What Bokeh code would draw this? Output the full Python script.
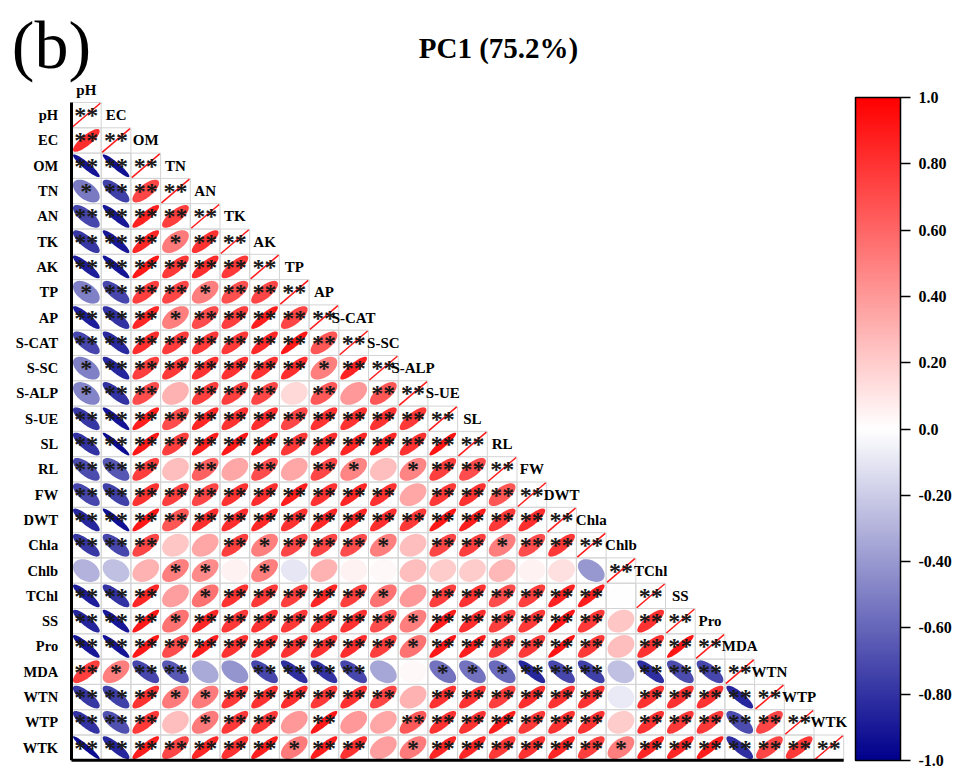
import numpy as np
from bokeh.plotting import figure
from bokeh.models import (Range1d, ColumnDataSource, LinearColorMapper, ColorBar,
                          FixedTicker, CustomJSTickFormatter)
from bokeh.core.properties import value
from bokeh.embed import file_html
from bokeh.resources import INLINE

# ---- data -----------------------------------------------------------------
names = ["pH", "EC", "OM", "TN", "AN", "TK", "AK", "TP", "AP", "S-CAT", "S-SC",
         "S-ALP", "S-UE", "SL", "RL", "FW", "DWT", "Chla", "Chlb", "TChl", "SS",
         "Pro", "MDA", "WTN", "WTP", "WTK"]

# lower triangle of the Pearson matrix, one list per row (columns 0 .. row-1)
r_EC = [0.82]
r_OM = [-0.92, -0.93]
r_TN = [-0.52, -0.75, 0.72]
r_AN = [-0.72, -0.90, 0.87, 0.75]
r_TK = [-0.78, -0.90, 0.85, 0.52, 0.80]
r_AK = [-0.88, -0.92, 0.90, 0.78, 0.82, 0.78]
r_TP = [-0.50, -0.72, 0.75, 0.72, 0.50, 0.68, 0.72]
r_AP = [-0.88, -0.80, 0.85, 0.50, 0.70, 0.75, 0.88, 0.72]
r_SCAT = [-0.72, -0.83, 0.82, 0.76, 0.78, 0.78, 0.84, 0.90, 0.66]
r_SSC = [-0.50, -0.85, 0.75, 0.78, 0.80, 0.80, 0.80, 0.82, 0.50, 0.86]
r_SALP = [-0.48, -0.80, 0.70, 0.30, 0.75, 0.75, 0.72, 0.15, 0.65, 0.40, 0.66]
r_SUE = [-0.78, -0.92, 0.88, 0.70, 0.85, 0.80, 0.82, 0.72, 0.80, 0.80, 0.80, 0.78]
r_SL = [-0.80, -0.95, 0.90, 0.75, 0.88, 0.90, 0.88, 0.78, 0.82, 0.85, 0.85, 0.80, 0.92]
r_RL = [-0.70, -0.66, 0.75, 0.25, 0.62, 0.35, 0.70, 0.35, 0.72, 0.48, 0.25, 0.48,
        0.75, 0.70]
r_FW = [-0.72, -0.75, 0.80, 0.75, 0.72, 0.80, 0.82, 0.88, 0.80, 0.85, 0.80, 0.35,
        0.78, 0.80, 0.66]
r_DWT = [-0.85, -0.93, 0.90, 0.66, 0.82, 0.82, 0.85, 0.80, 0.85, 0.85, 0.82, 0.78,
         0.90, 0.88, 0.78, 0.82]
r_Chla = [-0.78, -0.72, 0.72, 0.22, 0.35, 0.75, 0.50, 0.72, 0.72, 0.70, 0.50, 0.25,
          0.72, 0.75, 0.50, 0.70, 0.78]
r_Chlb = [-0.30, -0.25, 0.30, 0.50, 0.46, 0.05, 0.50, -0.10, 0.30, 0.05, 0.03, 0.25,
          0.20, 0.20, 0.28, 0.05, 0.12, -0.40]
r_TChl = [-0.88, -0.80, 0.85, 0.38, 0.55, 0.80, 0.78, 0.75, 0.85, 0.75, 0.55, 0.40,
          0.75, 0.80, 0.70, 0.75, 0.86, 0.88, 0.00]
r_SS = [-0.85, -0.90, 0.90, 0.55, 0.85, 0.78, 0.80, 0.78, 0.80, 0.80, 0.70, 0.50,
        0.88, 0.82, 0.75, 0.78, 0.90, 0.78, 0.22, 0.80]
r_Pro = [-0.90, -0.92, 0.90, 0.70, 0.88, 0.80, 0.82, 0.80, 0.80, 0.82, 0.75, 0.55,
         0.90, 0.88, 0.75, 0.78, 0.92, 0.78, 0.25, 0.80, 0.92]
r_MDA = [0.75, 0.50, -0.72, -0.65, -0.33, -0.42, -0.72, -0.82, -0.80, -0.72, -0.35,
         0.03, -0.55, -0.55, -0.58, -0.85, -0.72, -0.75, -0.25, -0.82, -0.70, -0.72]
r_WTN = [-0.78, -0.75, 0.80, 0.52, 0.52, 0.78, 0.80, 0.82, 0.78, 0.80, 0.72, 0.30,
         0.80, 0.80, 0.75, 0.82, 0.80, 0.80, -0.08, 0.80, 0.80, 0.80, -0.85]
r_WTP = [-0.80, -0.68, 0.78, 0.25, 0.52, 0.78, 0.78, 0.40, 0.90, 0.40, 0.35, 0.65,
         0.80, 0.80, 0.88, 0.78, 0.80, 0.80, 0.20, 0.80, 0.78, 0.78, -0.70, 0.72]
r_WTK = [-0.95, -0.85, 0.88, 0.72, 0.85, 0.80, 0.88, 0.52, 0.88, 0.80, 0.38, 0.52,
         0.85, 0.85, 0.78, 0.80, 0.85, 0.75, 0.50, 0.85, 0.85, 0.88, -0.82, 0.72, 0.78]

lower = [[], r_EC, r_OM, r_TN, r_AN, r_TK, r_AK, r_TP, r_AP, r_SCAT, r_SSC, r_SALP,
         r_SUE, r_SL, r_RL, r_FW, r_DWT, r_Chla, r_Chlb, r_TChl, r_SS, r_Pro, r_MDA,
         r_WTN, r_WTP, r_WTK]

# significance levels for the sample size used (|r| thresholds)
SIG1, SIG2 = 0.45, 0.60

title_text = "PC1 (75.2%)"
panel_tag = "(b)"
bar_ticks = [-1.0, -0.8, -0.6, -0.4, -0.2, 0.0, 0.2, 0.4, 0.6, 0.8, 1.0]

# ---- layout ---------------------------------------------------------------
W, H = 969, 768
CW, CH = 29.7, 25.3        # cell size in pixels
X0, Y0 = 71, 102           # top-left corner of the matrix in pixels
n = len(names)

def px_x(px):
    return (px - X0) / CW

def px_y(py):
    return (py - Y0) / CH

p = figure(width=W, height=H, output_backend="svg", toolbar_location=None,
           x_range=Range1d(px_x(0), px_x(W)), y_range=Range1d(px_y(H), px_y(0)),
           x_axis_location=None, y_axis_location=None, min_border=0,
           outline_line_color=None, background_fill_color="white")
p.grid.visible = False

# colour scale: navy -> white -> red
navy = np.array([0, 0, 140.0])
red = np.array([255, 0, 0.0])
white = np.array([255, 255, 255.0])
palette = []
for v in np.linspace(-1, 1, 256):
    c = white + (navy - white) * (-v) if v < 0 else white + (red - white) * v
    palette.append("#%02x%02x%02x" % tuple(int(round(k)) for k in c))
mapper = LinearColorMapper(palette=palette, low=-1, high=1)

# ---- cells, ellipses, stars -------------------------------------------------
t = np.linspace(0, 2 * np.pi, 72)
S = 0.45
cx, cy, xs, ys, rv, sx, sy, st = [], [], [], [], [], [], [], []
for i in range(n):
    for j in range(i + 1):
        cx.append(j + 0.5)
        cy.append(i + 0.5)
    for j, r in enumerate(lower[i]):
        d = np.arccos(r)
        ex = np.cos(t + d / 2)
        ey = np.cos(t - d / 2)
        xs.append(list(j + 0.5 + S * ex))
        ys.append(list(i + 0.5 - S * ey))
        rv.append(r)
        a = abs(r)
        if a >= SIG1:
            sx.append(j + 0.5)
            sy.append(i + 0.5)
            st.append("**" if a >= SIG2 else "*")

p.rect(x=cx, y=cy, width=1, height=1, fill_color=None, line_color="#d4d4d4",
       line_width=1)

src = ColumnDataSource(dict(xs=xs, ys=ys, r=rv))
p.patches("xs", "ys", source=src, fill_color={"field": "r", "transform": mapper},
          line_color=None)

# diagonal: self-correlation line
diag = np.arange(n)
p.segment(x0=diag + 0.5 - 0.47, y0=diag + 0.5 + 0.47, x1=diag + 0.5 + 0.47,
          y1=diag + 0.5 - 0.47, line_color="#ff1a1a", line_width=1.5)
sx += list(diag + 0.5)
sy += list(diag + 0.5)
st += ["**"] * n

p.text(x=sx, y=sy, text=st, text_align="center", text_baseline="middle",
       y_offset=0, text_font=value("Liberation Serif"), text_font_size="24px",
       text_font_style="bold", text_color="#1a1a1a")

# ---- frame lines and labels -------------------------------------------------
p.line(x=[0, 0], y=[0, n], line_color="black", line_width=3)
p.line(x=[0, n], y=[n, n], line_color="black", line_width=3)

p.text(x=[-0.45] * n, y=list(diag + 0.5), text=names, text_align="right",
       text_baseline="middle", text_font=value("Liberation Serif"),
       text_font_style="bold", text_font_size="14.5px", text_color="black")
p.text(x=list(diag + 0.5), y=list(diag - 0.5), text=names, text_align="center",
       text_baseline="middle", text_font=value("Liberation Serif"),
       text_font_style="bold", text_font_size="15px", text_color="black")

p.text(x=[px_x(498)], y=[px_y(47)], text=[title_text], text_align="center",
       text_baseline="middle", text_font=value("Liberation Serif"),
       text_font_style="bold", text_font_size="29px", text_color="black")
p.text(x=[px_x(51)], y=[px_y(44)], text=[panel_tag], text_align="center",
       text_baseline="middle", text_font=value("Liberation Serif"),
       text_font_size="68px", text_color="black")

# ---- colour bar -------------------------------------------------------------
fmt = CustomJSTickFormatter(code="""
    if (Math.abs(tick) < 1e-9) return '0.0';
    if (Math.abs(Math.abs(tick) - 1) < 1e-9) return tick.toFixed(1);
    return tick.toFixed(2);
""")
cb = ColorBar(color_mapper=mapper, ticker=FixedTicker(ticks=bar_ticks), formatter=fmt,
              width=45, height=663, location=(855, 8), padding=0, margin=0,
              bar_line_color="black", bar_line_width=1.5,
              major_tick_in=0, major_tick_out=10, major_tick_line_color="black",
              major_tick_line_width=1.5, minor_tick_line_color=None,
              label_standoff=8, major_label_text_font="Liberation Serif",
              major_label_text_font_style="bold", major_label_text_font_size="16px",
              major_label_text_color="black", background_fill_alpha=0,
              border_line_color=None)
p.add_layout(cb, "center")

open("out.html", "w").write(file_html(p, INLINE))
